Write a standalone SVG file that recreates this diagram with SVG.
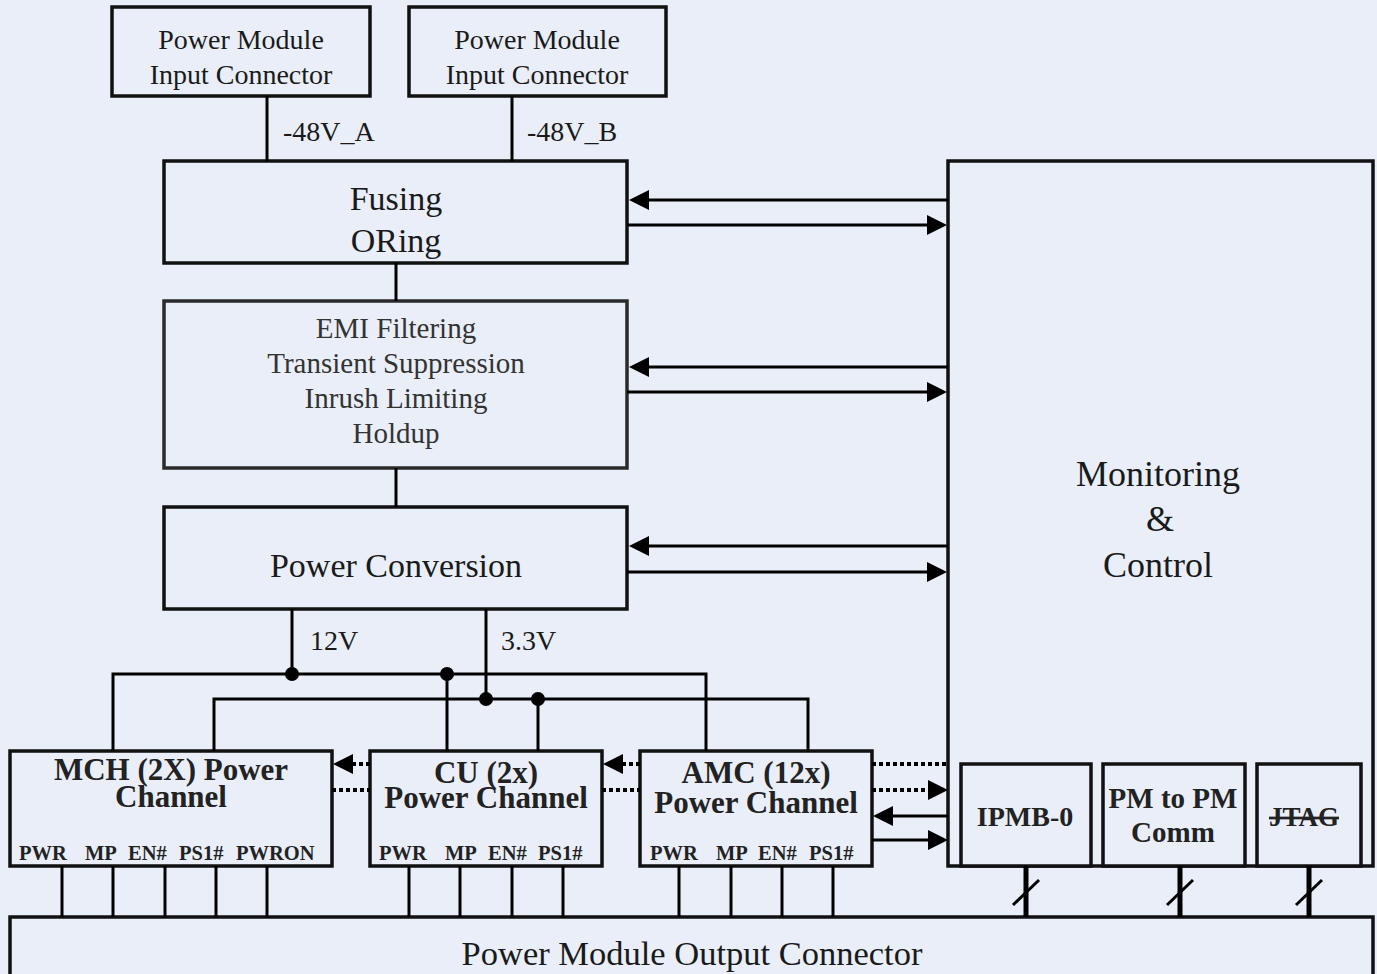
<svg xmlns="http://www.w3.org/2000/svg" width="1377" height="974" viewBox="0 0 1377 974">
<style>
.bg{fill:#E9EEF8}
.box{fill:#E9EEF8;stroke:#111;stroke-width:3.5}
.ln{stroke:#000;stroke-width:3;fill:none}
.bus{stroke:#000;stroke-width:5;fill:none}
.dot{stroke:#000;stroke-width:4;stroke-dasharray:4 3;fill:none}
.t{font-family:"Liberation Serif","Times New Roman",serif;fill:#1a1a1a;text-anchor:middle}
.tl{font-family:"Liberation Serif","Times New Roman",serif;fill:#1a1a1a}
.b{font-family:"Liberation Serif","Times New Roman",serif;font-weight:bold;fill:#222;text-anchor:middle}
.pin{font-family:"Liberation Serif","Times New Roman",serif;font-weight:bold;fill:#222;font-size:20.5px}
</style>
<defs>
<marker id="ah" markerUnits="userSpaceOnUse" markerWidth="20" markerHeight="20" refX="0" refY="10" orient="auto" viewBox="0 0 20 20">
<path d="M0,0 L20,10 L0,20 z" fill="#000"/>
</marker>
</defs>
<rect class="bg" x="0" y="0" width="1377" height="974"/>

<g id="pm-in-a">
<rect class="box" x="112" y="7" width="258" height="89"/>
<text class="t" x="241" y="49" font-size="28">Power Module</text>
<text class="t" x="241" y="84" font-size="28">Input Connector</text>
</g>
<g id="pm-in-b">
<rect class="box" x="409" y="7" width="257" height="89"/>
<text class="t" x="537" y="49" font-size="28">Power Module</text>
<text class="t" x="537" y="84" font-size="28">Input Connector</text>
</g>
<g id="fusing">
<rect class="box" x="164" y="161" width="463" height="102"/>
<text class="t" x="396" y="210" font-size="34">Fusing</text>
<text class="t" x="396" y="252" font-size="34">ORing</text>
</g>
<g id="emi">
<rect class="box" x="164" y="301" width="463" height="167" style="stroke:#2a2a2a"/>
<text class="t" x="396" y="338" font-size="29" style="fill:#333">EMI Filtering</text>
<text class="t" x="396" y="373" font-size="29" style="fill:#333">Transient Suppression</text>
<text class="t" x="396" y="408" font-size="29" style="fill:#333">Inrush Limiting</text>
<text class="t" x="396" y="443" font-size="29" style="fill:#333">Holdup</text>
</g>
<g id="power-conversion">
<rect class="box" x="164" y="507" width="463" height="102"/>
<text class="t" x="396" y="577" font-size="34">Power Conversion</text>
</g>
<g id="monitoring">
<rect class="box" x="948" y="161" width="425" height="705"/>
<text class="t" x="1158" y="486" font-size="36">Monitoring</text>
<text class="t" x="1160" y="531" font-size="36">&amp;</text>
<text class="t" x="1158" y="577" font-size="36">Control</text>
</g>
<g id="ipmb">
<rect class="box" x="961" y="764" width="130" height="102"/>
<text class="b" x="1025" y="826" font-size="28">IPMB-0</text>
</g>
<g id="pm2pm">
<rect class="box" x="1103" y="764" width="142" height="102"/>
<text class="b" x="1173" y="808" font-size="29">PM to PM</text>
<text class="b" x="1173" y="842" font-size="29">Comm</text>
</g>
<g id="jtag">
<rect class="box" x="1257" y="764" width="104" height="102"/>
<text class="b" x="1304" y="826" font-size="27" text-decoration="line-through">JTAG</text>
</g>
<g id="mch">
<rect class="box" x="10" y="751" width="322" height="115"/>
<text class="b" x="171" y="780" font-size="31">MCH (2X) Power</text>
<text class="b" x="171" y="807" font-size="31">Channel</text>
<text class="pin" x="19" y="860">PWR</text>
<text class="pin" x="85" y="860">MP</text>
<text class="pin" x="128" y="860">EN#</text>
<text class="pin" x="179" y="860">PS1#</text>
<text class="pin" x="236" y="860">PWRON</text>
</g>
<g id="cu">
<rect class="box" x="370" y="751" width="232" height="115"/>
<text class="b" x="486" y="783" font-size="31">CU (2x)</text>
<text class="b" x="486" y="808" font-size="31">Power Channel</text>
<text class="pin" x="379" y="860">PWR</text>
<text class="pin" x="445" y="860">MP</text>
<text class="pin" x="488" y="860">EN#</text>
<text class="pin" x="538" y="860">PS1#</text>
</g>
<g id="amc">
<rect class="box" x="640" y="751" width="232" height="115"/>
<text class="b" x="756" y="783" font-size="31">AMC (12x)</text>
<text class="b" x="756" y="813" font-size="31">Power Channel</text>
<text class="pin" x="650" y="860">PWR</text>
<text class="pin" x="716" y="860">MP</text>
<text class="pin" x="758" y="860">EN#</text>
<text class="pin" x="809" y="860">PS1#</text>
</g>
<g id="pm-out">
<rect class="box" x="10" y="917" width="1363" height="70"/>
<text class="t" x="692" y="965" font-size="34.5">Power Module Output Connector</text>
</g>

<g id="connectors">
<line class="ln" x1="267" y1="96" x2="267" y2="161"/>
<line class="ln" x1="512" y1="96" x2="512" y2="161"/>
<text class="tl" x="283" y="141" font-size="28">-48V_A</text>
<text class="tl" x="527" y="141" font-size="28">-48V_B</text>
<line class="ln" x1="396" y1="263" x2="396" y2="301"/>
<line class="ln" x1="396" y1="468" x2="396" y2="507"/>

<line class="ln" x1="948" y1="200" x2="649" y2="200" marker-end="url(#ah)"/>
<line class="ln" x1="627" y1="225" x2="927" y2="225" marker-end="url(#ah)"/>
<line class="ln" x1="948" y1="367" x2="649" y2="367" marker-end="url(#ah)"/>
<line class="ln" x1="627" y1="392" x2="927" y2="392" marker-end="url(#ah)"/>
<line class="ln" x1="948" y1="546" x2="649" y2="546" marker-end="url(#ah)"/>
<line class="ln" x1="627" y1="572" x2="927" y2="572" marker-end="url(#ah)"/>

<line class="ln" x1="292" y1="609" x2="292" y2="674"/>
<line class="ln" x1="486" y1="609" x2="486" y2="699"/>
<text class="tl" x="310" y="650" font-size="28">12V</text>
<text class="tl" x="501" y="650" font-size="28">3.3V</text>
<polyline class="ln" points="113,751 113,674 706,674 706,751"/>
<polyline class="ln" points="214,751 214,699 808,699 808,751"/>
<line class="ln" x1="447" y1="674" x2="447" y2="751"/>
<line class="ln" x1="538" y1="699" x2="538" y2="751"/>
<circle cx="292" cy="674" r="7" fill="#000"/>
<circle cx="447" cy="674" r="7" fill="#000"/>
<circle cx="486" cy="699" r="7" fill="#000"/>
<circle cx="538" cy="699" r="7" fill="#000"/>

<line class="dot" x1="370" y1="764" x2="353" y2="764" marker-end="url(#ah)"/>
<line class="dot" x1="332" y1="790" x2="370" y2="790"/>
<line class="dot" x1="640" y1="764" x2="623" y2="764" marker-end="url(#ah)"/>
<line class="dot" x1="602" y1="790" x2="640" y2="790"/>
<line class="dot" x1="872" y1="764" x2="948" y2="764"/>
<line class="dot" x1="872" y1="790" x2="928" y2="790" marker-end="url(#ah)"/>
<line class="ln" x1="948" y1="816" x2="893" y2="816" marker-end="url(#ah)"/>
<line class="ln" x1="872" y1="840" x2="928" y2="840" marker-end="url(#ah)"/>

<g class="ln">
<line x1="62" y1="866" x2="62" y2="917"/>
<line x1="113" y1="866" x2="113" y2="917"/>
<line x1="165" y1="866" x2="165" y2="917"/>
<line x1="216" y1="866" x2="216" y2="917"/>
<line x1="267" y1="866" x2="267" y2="917"/>
<line x1="409" y1="866" x2="409" y2="917"/>
<line x1="460" y1="866" x2="460" y2="917"/>
<line x1="512" y1="866" x2="512" y2="917"/>
<line x1="563" y1="866" x2="563" y2="917"/>
<line x1="679" y1="866" x2="679" y2="917"/>
<line x1="731" y1="866" x2="731" y2="917"/>
<line x1="782" y1="866" x2="782" y2="917"/>
<line x1="833" y1="866" x2="833" y2="917"/>
</g>
<line class="bus" x1="1026" y1="866" x2="1026" y2="917"/>
<line class="bus" x1="1180" y1="866" x2="1180" y2="917"/>
<line class="bus" x1="1309" y1="866" x2="1309" y2="917"/>
<g class="ln">
<line x1="1013" y1="905" x2="1039" y2="880"/>
<line x1="1167" y1="905" x2="1193" y2="880"/>
<line x1="1296" y1="905" x2="1322" y2="880"/>
</g>
</g>
</svg>
